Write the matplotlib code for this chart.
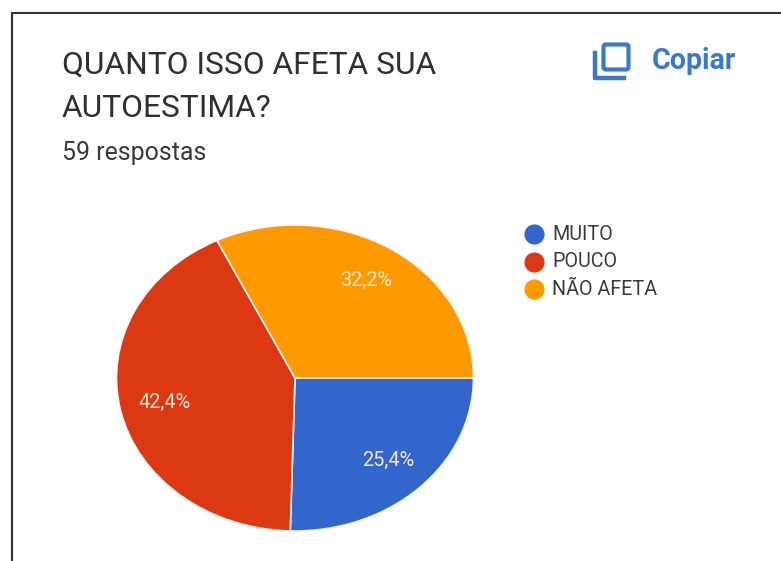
import matplotlib
matplotlib.use("Agg")
import matplotlib.pyplot as plt
from matplotlib.lines import Line2D
from matplotlib.patches import FancyBboxPatch

plt.rcParams['font.family'] = ['Roboto', 'DejaVu Sans']

# data
categories = ['MUITO', 'POUCO', 'NÃO AFETA']
respostas = [15, 25, 19]
colors = ['#3366CC', '#DC3912', '#FF9900']

W, H = 781, 561
fig = plt.figure(figsize=(W / 100, H / 100), dpi=100, facecolor='white')

# full-figure axes in pixel coords, for everything around the pie
bg = fig.add_axes([0, 0, 1, 1])
bg.set_xlim(0, W)
bg.set_ylim(H, 0)
bg.axis('off')

# screenshot border
bg.add_line(Line2D([11.5, 11.5, W], [H, 13, 13], color='#333333', lw=1.5))

# title
bg.text(62, 65, 'QUANTO ISSO AFETA SUA', fontsize=22.9, color='#303030', va='center')
bg.text(62, 108, 'AUTOESTIMA?', fontsize=22.9, color='#303030', va='center')
bg.text(62, 153, '59 respostas', fontsize=17.9, color='#3A3A3A', va='center')

# copy icon
blue = '#3A78C9'
bg.add_patch(FancyBboxPatch((603.5, 44.5), 25, 25, boxstyle='round,pad=0,rounding_size=2.5',
                            fill=False, ec=blue, lw=3))
bg.add_line(Line2D([594.5, 594.5, 624], [53, 78, 78], color=blue, lw=3.2))
bg.text(652, 61, 'Copiar', fontsize=20.6, fontweight='bold', color=blue, va='center')

# pie is stretched in the screenshot, so no equal aspect
cx, cy, rx, ry = 295, 378, 178.5, 153
ax = fig.add_axes([(cx - rx) / W, 1 - (cy + ry) / H, 2 * rx / W, 2 * ry / H])
wedges, _, autotexts = ax.pie(
    respostas, colors=colors, startangle=0, counterclock=False, radius=1,
    autopct=lambda p: f'{p:.1f}%'.replace('.', ','), pctdistance=0.75,
    wedgeprops={'edgecolor': '#F4F4F4', 'linewidth': 1.2},
    textprops={'fontsize': 14.3, 'color': '#FBEBD8'})
ax.set_aspect('auto')
ax.set_xlim(-1, 1)
ax.set_ylim(-1, 1)

# legend
for i, name in enumerate(categories):
    y = 234 + i * 27.5
    bg.plot([534], [y], 'o', ms=14.5, color=colors[i], mec='none')
    bg.text(552, y, name, fontsize=14.2, color='#3A3A3A', va='center')

fig.savefig('out.png', dpi=100)
